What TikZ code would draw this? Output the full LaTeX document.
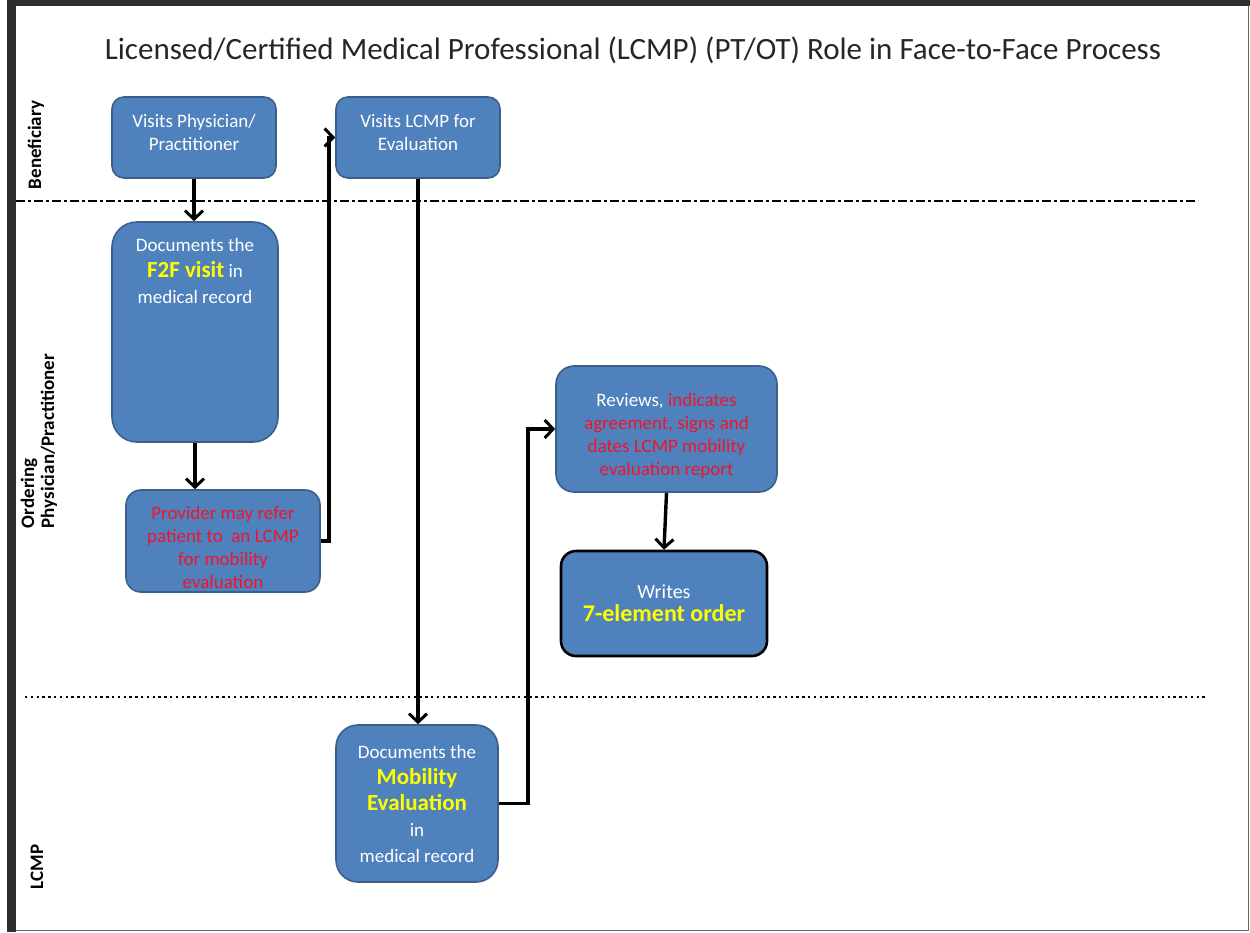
\documentclass[tikz,border=0pt]{standalone}
\usepackage{fontspec}
\setmainfont{Carlito}
\usetikzlibrary{arrows.meta}
\definecolor{boxblue}{HTML}{4F81BD}
\definecolor{boxedge}{HTML}{3A5F8B}
\definecolor{hiyel}{HTML}{FFFF00}
\definecolor{hired}{HTML}{F0142D}
\definecolor{framegray}{HTML}{2E2E2E}
\tikzset{
  flowbox/.style={draw=boxedge, line width=1.6pt, fill=boxblue, text=white, align=center,
    inner sep=2pt, font=\fontsize{19}{23}\selectfont},
  boxtext/.style={text=white, align=center, inner sep=0pt, font=\fontsize{19}{23}\selectfont},
  flowarrow/.style={line width=3.4pt, -{Straight Barb[length=8.5pt,width=18pt,line width=3pt]}},
  lanelabel/.style={rotate=90, font=\fontsize{19}{20}\selectfont\bfseries, align=left},
  lanesep/.style={line width=2.4pt}
}
\newcommand{\yel}[2]{{\fontsize{#1}{#1}\selectfont\bfseries\color{hiyel}#2}}
\begin{document}
\begin{tikzpicture}[x=1pt,y=-1pt]
\useasboundingbox (0,0) rectangle (1250,932);
% frame
\fill[framegray] (7,0) rectangle (1250,5.5);
\fill[framegray] (7,0) rectangle (16,932);
\draw[gray!80!black, line width=1pt] (1248,5) -- (1248,930.5) -- (16,930.5);
% title
\node[font=\fontsize{31}{34}\selectfont, text=black!85] (title) at (633,50)
  {Licensed/Certified Medical Professional (LCMP) (PT/OT) Role in Face-to-Face Process};
% lane separators
\coordinate (s1a) at (16,201); \coordinate (s1b) at (1198,201);
\coordinate (s2a) at (25,697); \coordinate (s2b) at (1208,697);
\draw[lanesep, dash pattern=on 9pt off 3pt on 3pt off 3pt] (s1a) -- (s1b);
\draw[lanesep, dash pattern=on 2.4pt off 3.4pt] (s2a) -- (s2b);
% lane labels
\node[lanelabel] (lben) at (36,145) {Beneficiary};
\node[lanelabel] (lord) at (39,441) {Ordering\\Physician/Practitioner};
\node[lanelabel] (llcmp) at (37,867) {LCMP};
% boxes
\node[flowbox, rounded corners=12pt, minimum width=164pt, minimum height=81pt] (b1) at (194,137.5) {};
\node[boxtext] (b1t) at (194,132.5) {Visits Physician/\\Practitioner};
\node[flowbox, rounded corners=12pt, minimum width=164pt, minimum height=81pt] (b2) at (418,137.5) {};
\node[boxtext] (b2t) at (418,132.5) {Visits LCMP for\\Evaluation};
\node[flowbox, rounded corners=25pt, minimum width=166pt, minimum height=220pt] (b3) at (195,332) {};
\node[boxtext, font=\fontsize{19}{26}\selectfont, anchor=north] (b3t) at (195,238)
  {Documents the\\\yel{23}{F2F visit} in\\medical record};
\node[flowbox, rounded corners=15pt, minimum width=194pt, minimum height=102pt] (b4) at (223,541) {};
\node[boxtext, text=hired] (b4t) at (223,547)
  {Provider may refer\\patient to~ an LCMP\\for mobility\\evaluation};
\node[flowbox, rounded corners=18pt, minimum width=221pt, minimum height=126pt] (b5) at (666.5,429) {};
\node[boxtext, text=hired] (b5t) at (666.5,436)
  {\textcolor{white}{Reviews,} indicates\\agreement, signs and\\dates LCMP mobility\\evaluation report};
\node[flowbox, draw=black, line width=2.6pt, rounded corners=15pt, minimum width=206pt, minimum height=105pt] (b6) at (664,603.5)
  {\fontsize{20}{27}\selectfont Writes\\\yel{24}{7-element order}};
\node[flowbox, rounded corners=22pt, minimum width=162pt, minimum height=157pt, font=\fontsize{19}{26}\selectfont] (b7) at (417,803.5)
  {Documents the\\\yel{23}{Mobility}\\\yel{23}{Evaluation}\\in\\medical record};
% connectors
\draw[flowarrow] (b1.south) -- (b1.south |- b3.north);
\draw[flowarrow] (b3.south) -- (b3.south |- b4.north);
\draw[flowarrow] (b4.east) -- ++(8,0) |- (b2.west);
\draw[flowarrow] (b2.south) -- (b2.south |- b7.north);
\draw[flowarrow] (b7.east) -- ++(29,0) |- (b5.west);
\draw[flowarrow] (b5.south) -- (b6.north);
\end{tikzpicture}
\end{document}
